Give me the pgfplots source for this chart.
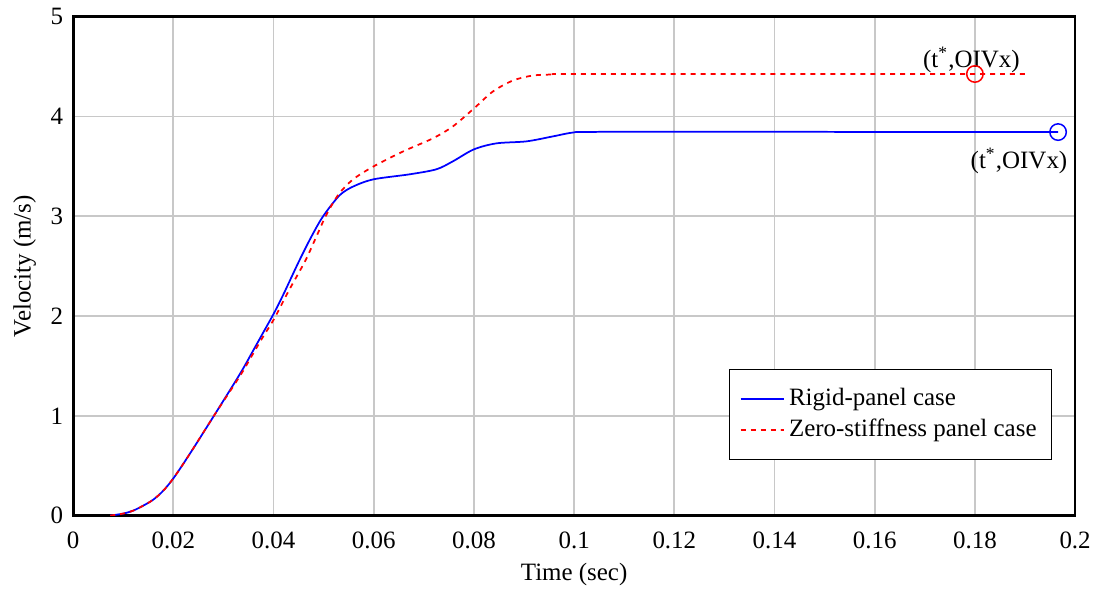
\documentclass[border=0pt]{standalone}
\usepackage{pgfplots}
\pgfplotsset{compat=1.18}
\usepackage{fontspec}
\setmainfont{Liberation Serif}
\definecolor{gridgray}{RGB}{200,200,200}
\begin{document}
\fontsize{10}{12}\selectfont
\begin{tikzpicture}
\begin{axis}[
  scale only axis,
  width=401.6pt, height=200pt,
  xmin=0, xmax=0.2, ymin=0, ymax=5,
  xtick={0,0.02,...,0.2}, ytick={0,1,2,3,4,5},
  xticklabels={0,0.02,0.04,0.06,0.08,0.1,0.12,0.14,0.16,0.18,0.2},
  yticklabels={0,1,2,3,4,5},
  tick label style={font=\fontsize{10}{12}\selectfont},
  label style={font=\fontsize{10}{12}\selectfont},
  xticklabel style={yshift=-3pt},
  yticklabel style={xshift=-0.5pt},
  major tick length=0pt,
  grid=major,
  grid style={gridgray, line width=0.7pt},
  axis line style={black, line width=1.1pt},
  xlabel={Time (sec)}, ylabel={Velocity (m/s)},
  xlabel style={yshift=1pt},
  ylabel style={yshift=-1pt},
  legend style={at={(0.977,0.112)}, anchor=south east,
    font=\fontsize{10}{12}\selectfont, inner xsep=4pt, inner ysep=5.5pt},
  legend cell align=left,
]
\addplot[draw=blue, line width=0.7pt, smooth] coordinates {
(0.0074,0.0) (0.0100,0.02) (0.0120,0.05) (0.0140,0.10) (0.0160,0.16) (0.0180,0.25)
(0.0201,0.38) (0.0233,0.62) (0.0281,1.00) (0.0333,1.42) (0.0360,1.66) (0.0380,1.84)
(0.0400,2.02) (0.0420,2.22) (0.0449,2.53) (0.0475,2.79) (0.0499,3.00)
(0.0532,3.21) (0.0560,3.30) (0.0600,3.37) (0.0672,3.42) (0.0725,3.47) (0.0758,3.55) (0.0800,3.67)
(0.0845,3.73) (0.0905,3.75) (0.0958,3.80) (0.1000,3.84) (0.1050,3.845) (0.1500,3.845)
(0.1966,3.843)
};
\addlegendentry{Rigid-panel case}
\addplot[draw=red, line width=0.7pt, dash pattern=on 2pt off 2pt, smooth] coordinates {
(0.0074,0.0) (0.0100,0.02) (0.0120,0.05) (0.0140,0.10) (0.0160,0.16) (0.0180,0.25)
(0.0201,0.38) (0.0233,0.62) (0.0281,1.00) (0.0333,1.40) (0.0360,1.63) (0.0380,1.80)
(0.0401,1.97) (0.0430,2.25) (0.0463,2.55) (0.0485,2.79) (0.0505,3.01)
(0.0530,3.22) (0.0559,3.37) (0.0600,3.50) (0.0659,3.65) (0.0718,3.78) (0.0758,3.90)
(0.0800,4.08) (0.0838,4.25) (0.0878,4.36) (0.0918,4.41) (0.0958,4.42) (0.1000,4.425)
(0.1500,4.425) (0.1908,4.425)
};
\addlegendentry{Zero-stiffness panel case}
\addplot[red, only marks, mark=o, mark size=3.3pt, line width=0.6pt, forget plot] coordinates {(0.18,4.425)};
\addplot[blue, only marks, mark=o, mark size=3.3pt, line width=0.6pt, forget plot] coordinates {(0.1966,3.843)};
\node at (axis cs:0.1793,4.57) {(t\textsuperscript{*},OIVx)};
\node at (axis cs:0.1888,3.55) {(t\textsuperscript{*},OIVx)};
\end{axis}
\path (current bounding box.south west) ++(-2pt,-2pt);
\end{tikzpicture}
\end{document}
